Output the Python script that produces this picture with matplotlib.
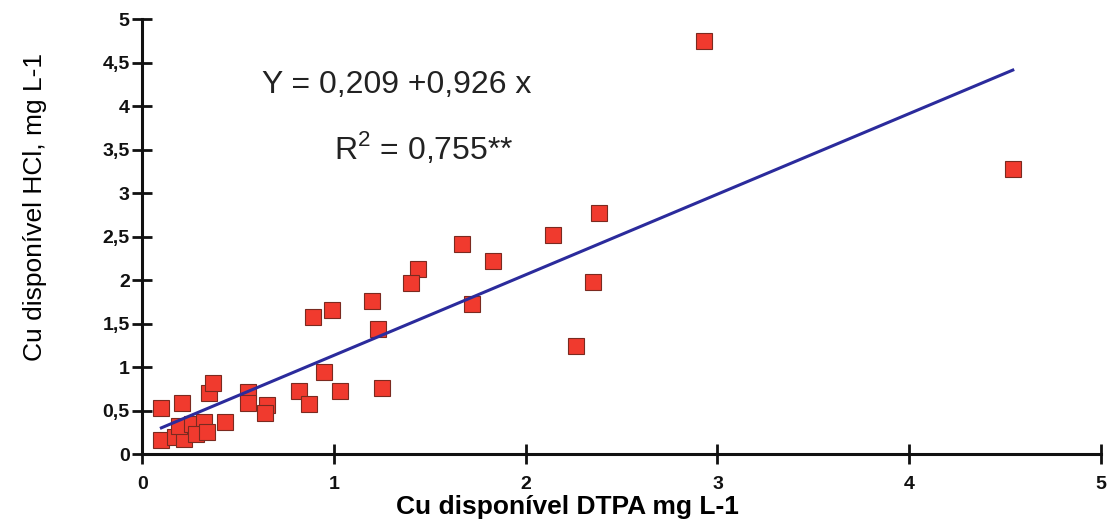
import matplotlib
matplotlib.use("Agg")
import matplotlib.pyplot as plt
import numpy as np

# Data
dtpa = [2.93, 4.54, 2.38, 2.14, 1.67, 1.83, 1.44, 1.40, 1.20, 2.35,
        0.99, 0.89, 1.23, 1.72, 2.26, 0.95, 1.03, 1.25, 0.82, 0.87,
        0.55, 0.55, 0.65, 0.64, 0.43, 0.10, 0.21, 0.35, 0.37,
        0.10, 0.17, 0.22, 0.19, 0.26, 0.32, 0.28, 0.34]
hcl = [4.75, 3.28, 2.77, 2.52, 2.42, 2.22, 2.13, 1.97, 1.76, 1.98,
       1.66, 1.58, 1.44, 1.73, 1.24, 0.94, 0.72, 0.76, 0.72, 0.58,
       0.71, 0.59, 0.56, 0.47, 0.37, 0.53, 0.59, 0.70, 0.82,
       0.16, 0.20, 0.17, 0.32, 0.35, 0.37, 0.23, 0.25]
intercept = 0.209
slope = 0.926
x_ticks = [0, 1, 2, 3, 4, 5]
y_ticks = [0, 0.5, 1, 1.5, 2, 2.5, 3, 3.5, 4, 4.5, 5]
x_ticklabels = ["0", "1", "2", "3", "4", "5"]
y_ticklabels = ["0", "0,5", "1", "1,5", "2", "2,5", "3", "3,5", "4", "4,5", "5"]
eq_text = "Y = 0,209 +0,926 x"
r2_text = "R$^2$ = 0,755**"
xlabel = "Cu disponível DTPA mg L-1"
ylabel = "Cu disponível HCl, mg L-1"

plt.rcParams['font.family'] = ['Liberation Sans', 'DejaVu Sans']
plt.rcParams['mathtext.fontset'] = 'custom'
plt.rcParams['mathtext.rm'] = 'Liberation Sans'

fig = plt.figure(figsize=(11.11, 5.28), dpi=100)
ax = fig.add_axes([0.128, 0.140, 0.863, 0.824])

ax.plot(dtpa, hcl, linestyle='none', marker='s', markersize=11,
        markerfacecolor='#f03a2e', markeredgecolor='#7a2a20',
        markeredgewidth=0.8, zorder=3)

xl = np.array([min(dtpa), max(dtpa)])
ax.plot(xl, intercept + slope * xl, color='#2b2b9c', linewidth=2.2, zorder=4)

ax.set_xlim(0, 5)
ax.set_ylim(0, 5)

for s in ['top', 'right']:
    ax.spines[s].set_visible(False)
for s in ['left', 'bottom']:
    ax.spines[s].set_linewidth(2.2)
    ax.spines[s].set_color('#111111')

ax.set_xticks(x_ticks, labels=x_ticklabels, fontsize=14, fontweight='bold')
ax.set_yticks(y_ticks, labels=y_ticklabels, fontsize=14, fontweight='bold')
ax.tick_params(direction='inout', length=14, width=2, colors='#111111', pad=2)
ax.tick_params(axis='x', pad=9)

ax.set_xlabel(xlabel, fontsize=19, fontweight='bold', va='top')
ax.xaxis.set_label_coords(0.443, -0.094)
ax.set_ylabel(ylabel, fontsize=19)
ax.yaxis.set_label_coords(-0.099, 0.568)

ax.text((397 - 142) / 191.8, (454 - 85) / 86.9, eq_text,
        fontsize=23, ha='center', va='center', color='#222222')
ax.text((424 - 142) / 191.8, (454 - 148) / 86.9, r2_text,
        fontsize=23, ha='center', va='center', color='#222222')

fig.savefig("out.png", dpi=100)
